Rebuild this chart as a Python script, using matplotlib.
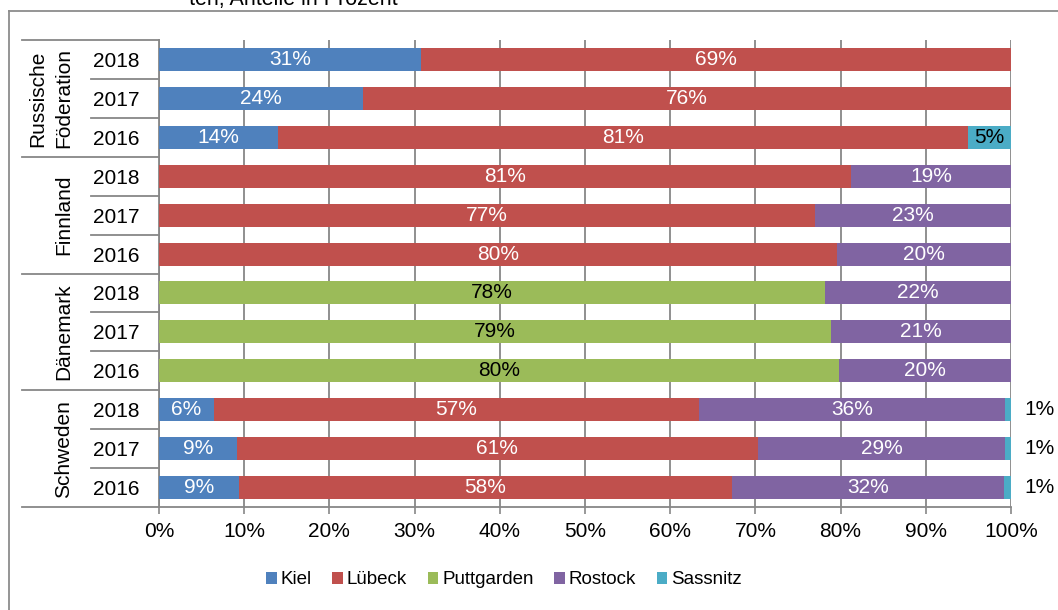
import matplotlib.pyplot as plt
import matplotlib.transforms as mtransforms
from matplotlib.lines import Line2D
from matplotlib.patches import Patch

plt.rcParams['font.family'] = ['Liberation Sans', 'DejaVu Sans']

# rows from top to bottom
countries = ['Russische\nFöderation', 'Finnland', 'Dänemark', 'Schweden']
years = ['2018', '2017', '2016']

ports = ['Kiel', 'Lübeck', 'Puttgarden', 'Rostock', 'Sassnitz']
kiel = [30.7, 23.9, 14.0, 0, 0, 0, 0, 0, 0, 6.4, 9.1, 9.4]
luebeck = [69.3, 76.1, 80.9, 81.2, 77.0, 79.6, 0, 0, 0, 57.0, 61.2, 57.8]
puttgarden = [0, 0, 0, 0, 0, 0, 78.2, 78.9, 79.8, 0, 0, 0]
rostock = [0, 0, 0, 18.8, 23.0, 20.4, 21.8, 21.1, 20.2, 35.9, 29.0, 32.0]
sassnitz = [0, 0, 5.1, 0, 0, 0, 0, 0, 0, 0.7, 0.7, 0.8]

colors = ['#4F81BD', '#C0504D', '#9BBB59', '#8064A2', '#4BACC6']
text_colors = ['white', 'white', 'black', 'white', 'black']
grid_col = '#878787'

fig = plt.figure(figsize=(10.58, 6.1), dpi=100)
ax = fig.add_axes([159 / 1058, 1 - 507 / 610, 852 / 1058, 467 / 610])

n = len(countries) * len(years)
ypos = list(range(n))
left = [0] * n
for name, vals, col, tcol in zip(ports, [kiel, luebeck, puttgarden, rostock, sassnitz], colors, text_colors):
    ax.barh(ypos, vals, left=left, height=0.59, color=col, label=name, zorder=3)
    for i, v in enumerate(vals):
        if v <= 0:
            continue
        if v < 2:
            # tiny share: label sits right of the bar
            ax.text(103.4, i, f'{v:.0f}%', ha='center', va='center', fontsize=15,
                    color='black', clip_on=False)
        else:
            ax.text(left[i] + v / 2, i, f'{v:.0f}%', ha='center', va='center',
                    fontsize=15, color=tcol, zorder=4)
    left = [a + b for a, b in zip(left, vals)]

ax.set_xlim(0, 100)
ax.set_ylim(n - 0.5, -0.5)
ax.set_xticks(range(0, 101, 10))
ax.set_xticklabels([f'{t}%' for t in range(0, 101, 10)], fontsize=15)
ax.set_yticks(ypos)
ax.set_yticklabels(years * len(countries), fontsize=15)
ax.tick_params(axis='y', length=0, pad=14)
ax.tick_params(axis='x', length=5, width=1.2, color=grid_col, pad=6)
ax.grid(axis='x', color=grid_col, linewidth=1.3, zorder=0)
for s in ['top', 'right']:
    ax.spines[s].set_visible(False)
for s in ['left', 'bottom']:
    ax.spines[s].set_color(grid_col)
    ax.spines[s].set_linewidth(1.3)

# category separators on the left
trans = mtransforms.blended_transform_factory(ax.transAxes, ax.transData)
for g in range(len(countries) + 1):
    yb = g * 3 - 0.5
    ax.add_line(Line2D([-0.161, 0], [yb, yb], transform=trans, color=grid_col,
                       lw=1.3, clip_on=False))
    if g < len(countries):
        for k in range(1, 3):
            ax.add_line(Line2D([-0.08, 0], [yb + k, yb + k], transform=trans,
                               color=grid_col, lw=1.3, clip_on=False))
        ax.text(-0.101, g * 3 + 1, countries[g], transform=trans, rotation=90,
                ha='right', va='center', fontsize=15, multialignment='center',
                linespacing=1.45)

# legend
handles = [Patch(facecolor=c, edgecolor='none') for c in colors]
fig.legend(handles, ports, loc='center', bbox_to_anchor=(504 / 1058, 1 - 580 / 610),
           ncol=5, frameon=False, fontsize=13.5, handlelength=0.55, handleheight=0.55,
           handletextpad=0.22, columnspacing=1.1)

# outer frame and cut-off title
fig.add_artist(Line2D([9 / 1058, 9 / 1058], [0, 1 - 10.5 / 610], color='#8c8c8c', lw=1.3))
fig.add_artist(Line2D([9 / 1058, 1], [1 - 10.5 / 610, 1 - 10.5 / 610], color='#8c8c8c', lw=1.3))
fig.text(293 / 1058, 1 - 5 / 610, 'ten, Anteile in Prozent', ha='center', va='baseline',
         fontsize=15.5)

fig.savefig('out.png', dpi=100)
